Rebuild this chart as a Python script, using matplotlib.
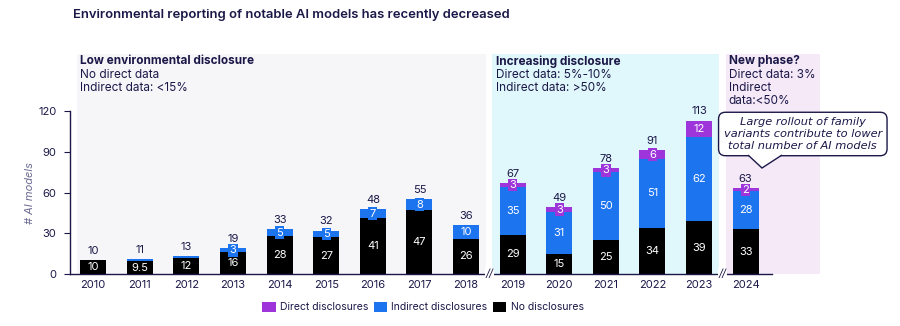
import numpy as np
import matplotlib
matplotlib.use("Agg")
import matplotlib.pyplot as plt
from matplotlib.patches import Rectangle, Polygon

# data
years = ['2010', '2011', '2012', '2013', '2014', '2015', '2016', '2017',
         '2018', '2019', '2020', '2021', '2022', '2023', '2024']
no_disc = [10, 9.5, 12, 16, 28, 27, 41, 47, 26, 29, 15, 25, 34, 39, 33]
indirect = [0, 1.5, 1, 3, 5, 5, 7, 8, 10, 35, 31, 50, 51, 62, 28]
direct = [0, 0, 0, 0, 0, 0, 0, 0, 0, 3, 3, 3, 6, 12, 2]
totals = [10, 11, 13, 19, 33, 32, 48, 55, 36, 67, 49, 78, 91, 113, 63]

NAVY = '#1b1848'
C_DIRECT = '#9d35db'
C_INDIRECT = '#1c74ef'
C_NONE = '#000000'

plt.rcParams['font.family'] = ['Inter', 'DejaVu Sans']

fig = plt.figure(figsize=(9, 3.26), dpi=100)
ax = fig.add_axes([0.078, 0.1595, 0.780, 0.6745])

x = np.arange(len(years))
w = 0.56
no_disc = np.array(no_disc)
indirect = np.array(indirect)
direct = np.array(direct)

# phase backgrounds
phases = [(-0.34, 8.43, '#f6f6f9'), (8.56, 13.43, '#e0f8fb'), (13.58, 15.6, '#f5e9f8')]
for x0, x1, col in phases:
    ax.add_patch(Rectangle((x0, 0), x1 - x0, 162, facecolor=col, edgecolor='none',
                           zorder=0, clip_on=False))

ax.bar(x, no_disc, w, color=C_NONE, zorder=2, label='No disclosures')
ax.bar(x, indirect, w, bottom=no_disc, color=C_INDIRECT, zorder=2, label='Indirect disclosures')
ax.bar(x, direct, w, bottom=no_disc + indirect, color=C_DIRECT, zorder=2, label='Direct disclosures')

# segment labels
def seg_label(xi, yc, val, col):
    txt = ('%g' % val)
    ax.text(xi, yc, txt, ha='center', va='center', color='white', fontsize=8, zorder=4,
            bbox=dict(boxstyle='square,pad=0.12', facecolor=col, edgecolor='none'))

for i in range(len(years)):
    seg_label(x[i], no_disc[i] / 2, no_disc[i], C_NONE)
    if indirect[i] >= 2:
        seg_label(x[i], no_disc[i] + indirect[i] / 2, indirect[i], C_INDIRECT)
    if direct[i] >= 2:
        seg_label(x[i], no_disc[i] + indirect[i] + direct[i] / 2, direct[i], C_DIRECT)
    top = no_disc[i] + indirect[i] + direct[i]
    ax.annotate(str(totals[i]), (x[i], top), xytext=(0, 3), textcoords='offset points',
                ha='center', va='bottom', fontsize=8, color=NAVY, zorder=4)

ax.set_xlim(-0.494, 14.57)
ax.set_ylim(0, 162)
ax.set_yticks([0, 30, 60, 90, 120])
ax.spines['left'].set_bounds(0, 120)
ax.spines['top'].set_visible(False)
ax.spines['right'].set_visible(False)
for s in ['left', 'bottom']:
    ax.spines[s].set_color(NAVY)
    ax.spines[s].set_linewidth(1.0)
    ax.spines[s].set_zorder(3)
ax.set_xticks(x)
ax.set_xticklabels(years)
ax.tick_params(axis='x', length=0, pad=4, labelsize=8, labelcolor=NAVY)
ax.tick_params(axis='y', length=4, color=NAVY, labelsize=8, labelcolor=NAVY, pad=6)
ax.set_ylabel('# AI models', fontsize=8, style='italic', color='#6c6a92')
ax.yaxis.set_label_coords(-0.05, 0.37)

# axis breaks
for bx in [8.5, 13.5]:
    ax.text(bx, 0, '//', ha='center', va='center', fontsize=8, color=NAVY, style='italic',
            zorder=5, bbox=dict(boxstyle='square,pad=0.05', facecolor='white', edgecolor='none'))

# phase notes
notes = [(-0.28, 'Low environmental disclosure', ['No direct data', 'Indirect data: <15%']),
         (8.65, 'Increasing disclosure', ['Direct data: 5%-10%', 'Indirect data: >50%']),
         (13.64, 'New phase?', ['Direct data: 3%', 'Indirect', 'data:<50%'])]
for nx, head, lines in notes:
    ax.text(nx, 161, head, ha='left', va='top', fontsize=8.5, fontweight='bold', color=NAVY)
    for k, ln in enumerate(lines):
        ax.text(nx, 161 - 9.6 * (k + 1), ln, ha='left', va='top', fontsize=8.5, color=NAVY)

# callout
fig.text(0.892, 0.589, 'Large rollout of family\nvariants contribute to lower\ntotal number of AI models',
         ha='center', va='center', fontsize=8.2, style='italic', color=NAVY, linespacing=1.2,
         family=['DejaVu Sans'],
         bbox=dict(boxstyle='round,pad=0.45,rounding_size=0.6', facecolor='white',
                   edgecolor=NAVY, linewidth=1.0))
fig.patches.append(Polygon([[748 / 900, 1 - 155 / 326], [762 / 900, 1 - 168 / 326],
                            [782 / 900, 1 - 155 / 326]], closed=False, transform=fig.transFigure,
                           facecolor='white', edgecolor=NAVY, linewidth=1.0, zorder=10))

fig.text(0.081, 0.953, 'Environmental reporting of notable AI models has recently decreased',
         ha='left', va='center', fontsize=9.4, fontweight='semibold', color=NAVY)

handles, labels = ax.get_legend_handles_labels()
fig.legend(handles[::-1], labels[::-1], loc='center', bbox_to_anchor=(0.47, 0.058), ncol=3,
           frameon=False, fontsize=7.5, handlelength=1.3, handleheight=1.1, handletextpad=0.4,
           columnspacing=0.5, labelcolor=NAVY)

fig.savefig('out.png', dpi=100)
